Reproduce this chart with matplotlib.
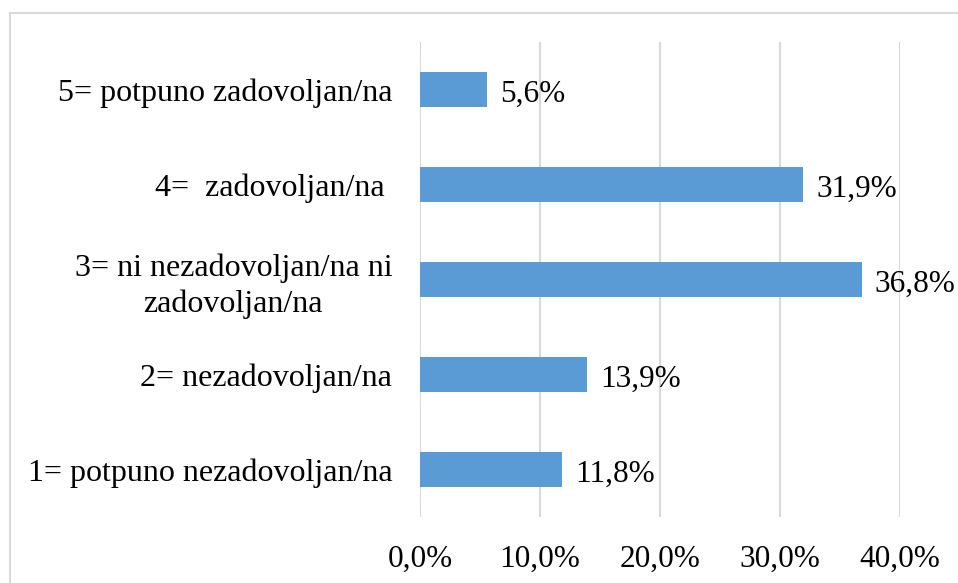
import matplotlib
matplotlib.use("Agg")
import matplotlib.pyplot as plt
from matplotlib.lines import Line2D
from matplotlib.ticker import FuncFormatter

categories = [
    "1= potpuno nezadovoljan/na",
    "2= nezadovoljan/na",
    "3= ni nezadovoljan/na ni\nzadovoljan/na",
    "4=  zadovoljan/na ",
    "5= potpuno zadovoljan/na",
]
values = [11.8, 13.9, 36.8, 31.9, 5.6]
xticks = [0, 10, 20, 30, 40]

BAR = "#5B9BD5"
GRID = "#D9D9D9"
FS = 22.5

plt.rcParams["font.family"] = ["Liberation Serif", "DejaVu Serif"]

W, H = 958, 583
fig = plt.figure(figsize=(W / 100, H / 100), dpi=100)
ax = fig.add_axes([420 / W, 1 - 517 / H, 480 / W, (517 - 42) / H])

y = range(len(categories))
ax.barh(y, values, height=0.36, color=BAR, zorder=3)

for yi, v in zip(y, values):
    ax.text(v + 1.1, yi - 0.05, f"{v:.1f}%".replace(".", ","), va="center", ha="left",
            fontsize=FS, zorder=4)

ax.set_xlim(0, 40)
ax.set_ylim(-0.5, len(categories) - 0.5)
ax.set_xticks(xticks)
ax.xaxis.set_major_formatter(FuncFormatter(lambda v, p: f"{v:.1f}%".replace(".", ",")))
ax.set_yticks(list(y))
ax.set_yticklabels(categories, fontsize=23, ha="right", multialignment="center",
                   linespacing=1.3)
ax.tick_params(axis="y", length=0, pad=20)
ax.tick_params(axis="x", length=0, pad=20, labelsize=FS)
ax.grid(axis="x", color=GRID, linewidth=1.5, zorder=0)
for s in ax.spines.values():
    s.set_visible(False)

# outer frame (top and left only visible)
fig.add_artist(Line2D([10 / W, 957 / W], [1 - 13 / H, 1 - 13 / H], color=GRID, linewidth=1.5))
fig.add_artist(Line2D([10 / W, 10 / W], [0, 1 - 13 / H], color=GRID, linewidth=1.5))

plt.savefig("out.png", dpi=100)
plt.close()
